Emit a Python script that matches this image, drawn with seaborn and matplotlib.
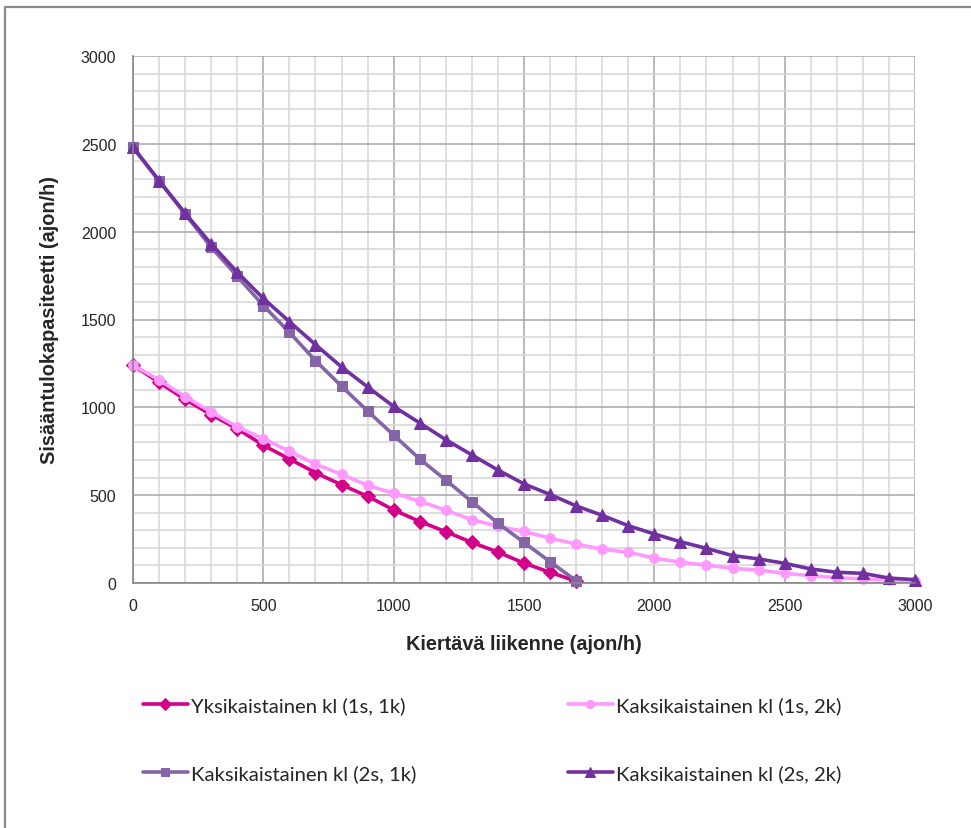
import matplotlib
matplotlib.use("Agg")
import matplotlib.pyplot as plt
from matplotlib.lines import Line2D
from matplotlib.ticker import MultipleLocator
import pandas as pd
import seaborn as sns

# ---- data ----
x_short = [0, 100, 200, 300, 400, 500, 600, 700, 800, 900, 1000, 1100, 1200,
           1300, 1400, 1500, 1600, 1700]
x_long = [0, 100, 200, 300, 400, 500, 600, 700, 800, 900, 1000, 1100, 1200,
          1300, 1400, 1500, 1600, 1700, 1800, 1900, 2000, 2100, 2200, 2300,
          2400, 2500, 2600, 2700, 2800, 2900, 3000]

s1_label = "Yksikaistainen kl (1s, 1k)"
s1_vals = [1240, 1142, 1045, 958, 878, 784, 706, 628, 559, 494, 416, 350, 292,
           231, 176, 113, 61, 10]

s2_label = "Kaksikaistainen kl (1s, 2k)"
s2_vals = [1240, 1156, 1061, 973, 889, 821, 750, 677, 618, 556, 511, 466, 414,
           361, 322, 294, 255, 222, 192, 175, 142, 118, 102, 83, 74, 55, 42,
           30, 23, 17, 11]

s3_label = "Kaksikaistainen kl (2s, 1k)"
s3_vals = [2480, 2290, 2100, 1911, 1746, 1579, 1427, 1266, 1120, 979, 842, 706,
           586, 463, 340, 231, 121, 13]

s4_label = "Kaksikaistainen kl (2s, 2k)"
s4_vals = [2480, 2290, 2105, 1930, 1769, 1620, 1488, 1357, 1230, 1116, 1005,
           911, 816, 729, 643, 564, 504, 439, 385, 326, 279, 235, 197, 156,
           137, 112, 80, 61, 55, 28, 19]

x_label = "Kiertävä liikenne (ajon/h)"
y_label = "Sisääntulokapasiteetti (ajon/h)"
x_ticks = [0, 500, 1000, 1500, 2000, 2500, 3000]
y_ticks = [0, 500, 1000, 1500, 2000, 2500, 3000]

colors = {s1_label: "#d4008a", s2_label: "#ff99ff",
          s3_label: "#8466a8", s4_label: "#7030a0"}
markers = {s1_label: "D", s2_label: "o", s3_label: "s", s4_label: "^"}

df = pd.concat([
    pd.DataFrame({"x": x_short, "y": s1_vals, "serie": s1_label}),
    pd.DataFrame({"x": x_long, "y": s2_vals, "serie": s2_label}),
    pd.DataFrame({"x": x_short, "y": s3_vals, "serie": s3_label}),
    pd.DataFrame({"x": x_long, "y": s4_vals, "serie": s4_label}),
], ignore_index=True)
order = [s1_label, s2_label, s3_label, s4_label]

# ---- style ----
sns.set_style("white")
plt.rcParams["font.family"] = ["Liberation Sans", "DejaVu Sans"]

W, H = 971, 829
fig = plt.figure(figsize=(W / 100, H / 100), dpi=100)
fig.patch.set_facecolor("white")
L, R, T, B = 133, 915, 57, 584
ax = fig.add_axes([L / W, 1 - B / H, (R - L) / W, (B - T) / H])

for name in order:
    sub = df[df["serie"] == name]
    sns.lineplot(data=sub, x="x", y="y", ax=ax, color=colors[name],
                 marker=markers[name], markersize=7 if markers[name] != "^" else 8,
                 markeredgecolor=colors[name], linewidth=2.6, label=name,
                 estimator=None, sort=False, clip_on=False)

ax.set_xlim(0, 3000)
ax.set_ylim(0, 3000)
ax.set_xticks(x_ticks)
ax.set_yticks(y_ticks)
ax.xaxis.set_minor_locator(MultipleLocator(100))
ax.yaxis.set_minor_locator(MultipleLocator(100))
ax.grid(True, which="minor", color="#d6d6d6", linewidth=1.1, zorder=0)
ax.grid(True, which="major", color="#a6a6a6", linewidth=1.1, zorder=0)
ax.set_axisbelow(True)
ax.tick_params(which="minor", length=0)
ax.tick_params(which="major", direction="out", length=4, width=1,
               color="#868686", labelsize=11.5, pad=7)
ax.tick_params(axis="y", pad=8)
for s in ["top", "right"]:
    ax.spines[s].set_visible(False)
for s in ["left", "bottom"]:
    ax.spines[s].set_color("#868686")
    ax.spines[s].set_linewidth(1.2)

ax.set_xlabel(x_label, fontsize=14.3, fontweight="bold", labelpad=15)
ax.set_ylabel(y_label, fontsize=14.3, fontweight="bold", labelpad=16)

handles, labels = ax.get_legend_handles_labels()
ax.get_legend().remove()
hmap = dict(zip(labels, handles))
leg_order = [s1_label, s3_label, s2_label, s4_label]
fig.legend([hmap[k] for k in leg_order], leg_order, ncol=2,
           loc="upper left", bbox_to_anchor=(143 / W, 1 - 697 / H),
           frameon=False, prop={"family": ["Lato", "DejaVu Sans"], "size": 14.6},
           handlelength=2.2, handletextpad=0.15, markerscale=0.85,
           labelspacing=2.46, columnspacing=7.5, borderpad=0, borderaxespad=0)

# outer frame (top and left edges visible)
fig.add_artist(Line2D([5 / W, 5 / W], [0, 1 - 8 / H], transform=fig.transFigure,
                      color="#8a8a8a", linewidth=1.6))
fig.add_artist(Line2D([5 / W, 1], [1 - 8 / H, 1 - 8 / H], transform=fig.transFigure,
                      color="#8a8a8a", linewidth=1.6))

fig.savefig("out.png", dpi=100, facecolor="white")
